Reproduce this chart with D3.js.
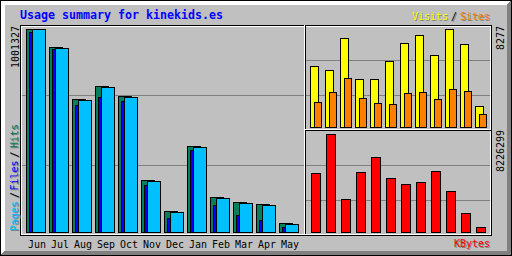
<!DOCTYPE html>
<html>
<head>
<meta charset="utf-8">
<script src="https://cdn.jsdelivr.net/npm/d3@7"></script>
<style>
  body { margin: 0; background: #c0c0c0; }
  svg { display: block; }
  text { font-family: "DejaVu Sans Mono", monospace; }
</style>
</head>
<body>
<div id="chart"></div>
<script>
// monthly data (Jun .. May)
var months = ["Jun", "Jul", "Aug", "Sep", "Oct", "Nov", "Dec", "Jan", "Feb", "Mar", "Apr", "May"];
var hits   = [1001327, 912500, 656000, 720200, 670800, 256500, 103600, 424200, 172600, 148000, 138100, 44400];
var files  = [986500, 902700, 626400, 665900, 646200, 231800, 69100, 404500, 133200, 83900, 59200, 24700];
var pages  = [1000100, 907600, 651100, 715200, 668000, 251600, 98700, 419300, 167700, 143100, 133200, 39500];
var visits = [5152, 4814, 7517, 4054, 4040, 5574, 7095, 7770, 6081, 8277, 7010, 1774];
var sites  = [2112, 2956, 4139, 2449, 2027, 1943, 2872, 2956, 2365, 3209, 3041, 1098];
var kbytes = [4952600, 8226299, 2770100, 5036500, 6295700, 4532900, 4029200, 4197100, 5120500, 3441600, 1594900, 419700];

var title = "Usage summary for kinekids.es";

// colours
var grey = "#c0c0c0", dkgrey = "#808080", black = "#000000", white = "#ffffff";
var hitcolor = "#00805c", filecolor = "#0000ff", pagecolor = "#00c0ff";
var visitcolor = "#ffff00", sitecolor = "#ff8000", kbytecolor = "#ff0000";

var W = 512, H = 256;

var svg = d3.select("#chart")
  .append("svg")
    .attr("width", W)
    .attr("height", H);

// pixel line / box helpers (inclusive pixel coords)
function pline(x1, y1, x2, y2, c) {
  svg.append("rect")
    .attr("x", Math.min(x1, x2)).attr("y", Math.min(y1, y2))
    .attr("width", Math.abs(x2 - x1) + 1).attr("height", Math.abs(y2 - y1) + 1)
    .attr("fill", c);
}
function pbox(x1, y1, x2, y2, c) {
  pline(x1, y1, x2, y1, c);
  pline(x1, y2, x2, y2, c);
  pline(x1, y1, x1, y2, c);
  pline(x2, y1, x2, y2, c);
}

// background + shadow border
svg.append("rect").attr("width", W).attr("height", H).attr("fill", grey);
for (var i = 0; i < 5; i++) {
  pline(i, i, W - 1 - i, i, white);
  pline(i, i, i, H - 1 - i, white);
  pline(i, H - 1 - i, W - 1 - i, H - 1 - i, dkgrey);
  pline(W - 1 - i, i, W - 1 - i, H - 1 - i, dkgrey);
}
pbox(0, 0, W - 1, H - 1, black);

// grid lines
[95, 165].forEach(function(y) { pline(21, y, 303, y, dkgrey); });
[60, 95, 165, 200].forEach(function(y) { pline(306, y, 489, y, dkgrey); });

// inner frame and section lines
pbox(20, 25, 491, 235, black);
pbox(21, 26, 490, 234, white);
pline(305, 25, 305, 233, black);
pline(304, 25, 304, 233, white);
pline(305, 130, 490, 130, black);
pline(305, 129, 490, 129, white);

// scales
var xL = d3.scaleBand().domain(months).range([26, 26 + 23 * 12]);
var yL = d3.scaleLinear().domain([0, d3.max(hits)]).range([232, 29]);
var xR = d3.scaleBand().domain(months).range([310, 310 + 15 * 12]);
var yV = d3.scaleLinear().domain([0, d3.max(visits)]).range([127, 29]);
var yK = d3.scaleLinear().domain([0, d3.max(kbytes)]).range([232, 134]);

function bars(values, x, offset, w, y, color) {
  svg.append("g").selectAll("rect")
    .data(values)
    .enter()
    .append("rect")
      .attr("x", function(d, i) { return x(months[i]) + offset + 0.5; })
      .attr("y", function(d) { return Math.round(y(d)) + 0.5; })
      .attr("width", w)
      .attr("height", function(d) { return y.range()[0] - Math.round(y(d)); })
      .attr("fill", color)
      .attr("stroke", black)
      .attr("stroke-width", 1);
}

bars(hits, xL, 0, 13, yL, hitcolor);
bars(files, xL, 3, 13, yL, filecolor);
bars(pages, xL, 6, 13, yL, pagecolor);
bars(visits, xR, 0, 8, yV, visitcolor);
bars(sites, xR, 4, 7, yV, sitecolor);
bars(kbytes, xR, 1, 9, yK, kbytecolor);

// text helpers
function txt(x, y, s, c) {
  return svg.append("text")
    .attr("x", x).attr("y", y)
    .attr("font-size", 10)
    .attr("textLength", s.length * 6)
    .attr("lengthAdjust", "spacingAndGlyphs")
    .attr("fill", c)
    .text(s);
}
function txtUp(x, y, s, c) {
  return svg.append("text")
    .attr("transform", "translate(" + x + "," + y + ") rotate(-90)")
    .attr("font-size", 10)
    .attr("textLength", s.length * 6)
    .attr("lengthAdjust", "spacingAndGlyphs")
    .attr("fill", c)
    .text(s);
}

// title
svg.append("text")
  .attr("x", 20).attr("y", 19)
  .attr("font-size", 12)
  .attr("font-weight", "bold")
  .attr("textLength", title.length * 7)
  .attr("lengthAdjust", "spacingAndGlyphs")
  .attr("fill", "#0000ff")
  .text(title);

// month labels
months.forEach(function(m) { txt(xL(m) + 2, 248, m, black); });

// max values
var maxHits = String(d3.max(hits));
var maxVisits = String(d3.max(visits));
var maxK = String(d3.max(kbytes));
txtUp(18.8, 26 + maxHits.length * 6, maxHits, black);
txtUp(503.8, 26 + maxVisits.length * 6, maxVisits, black);
txtUp(503.8, 130 + maxK.length * 6, maxK, black);

// legends (shadowed)
function shadowTxt(x, y, s, c) { txt(x + 1, y + 1, s, dkgrey); txt(x, y, s, c); }
function shadowUp(x, y, s, c) { txtUp(x + 1, y + 1, s, dkgrey); txtUp(x, y, s, c); }

shadowTxt(454, 247, "KBytes", kbytecolor);
shadowTxt(412, 20, "Visits", visitcolor);
shadowTxt(451, 20, "/", black);
shadowTxt(460, 20, "Sites", sitecolor);

shadowUp(17.8, 231, "Pages", pagecolor);
shadowUp(17.8, 198, "/", black);
shadowUp(17.8, 190.5, "Files", filecolor);
shadowUp(17.8, 157.5, "/", black);
shadowUp(17.8, 148, "Hits", hitcolor);
</script>
</body>
</html>
